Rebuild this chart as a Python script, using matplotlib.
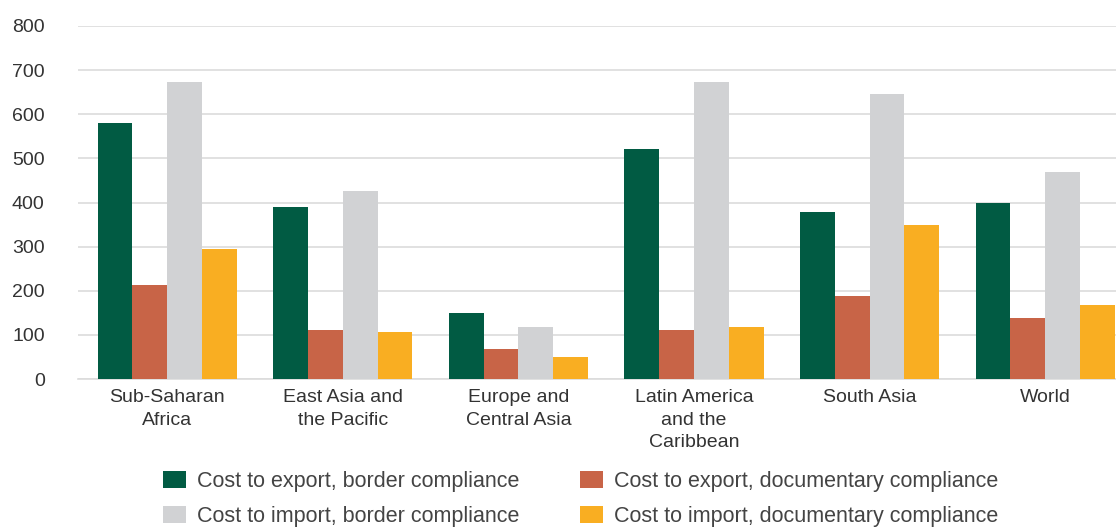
import numpy as np
import matplotlib.pyplot as plt

plt.rcParams['font.family'] = ['Liberation Sans', 'DejaVu Sans']

# Data
regions = ["Sub-Saharan\nAfrica", "East Asia and\nthe Pacific", "Europe and\nCentral Asia",
           "Latin America\nand the\nCaribbean", "South Asia", "World"]
export_border = [580, 389, 150, 522, 379, 400]
export_doc = [212, 111, 67, 111, 187, 139]
import_border = [674, 425, 118, 674, 645, 468]
import_doc = [295, 107, 49, 118, 349, 168]

series_names = ["Cost to export, border compliance", "Cost to export, documentary compliance",
                "Cost to import, border compliance", "Cost to import, documentary compliance"]
colors = ["#015B43", "#C86447", "#D1D2D4", "#F9AE22"]

W, H = 1116, 527
fig = plt.figure(figsize=(W / 100, H / 100), dpi=100)
ax = fig.add_axes([78 / W, 1 - 379 / H, (W - 78) / W, (379 - 26) / H])

x = np.arange(len(regions))
bw = 0.198
all_series = [export_border, export_doc, import_border, import_doc]
handles = []
for i, (vals, c) in enumerate(zip(all_series, colors)):
    b = ax.bar(x + (i - 1.5) * bw, vals, bw, color=c, zorder=3, label=series_names[i])
    handles.append(b)

ax.set_ylim(0, 800)
ax.set_xlim(-0.508, 5.403)
ax.set_yticks(range(0, 801, 100))
ax.yaxis.grid(True, color="#dcdcdc", linewidth=1.2, zorder=0)
ax.set_xticks(x)
ax.set_xticklabels(regions, fontsize=14, color="#333333", linespacing=1.45)
ax.tick_params(axis='y', labelsize=14, colors="#333333", length=0, pad=24)
ax.tick_params(axis='x', length=0, pad=7)
for s in ["top", "right", "left"]:
    ax.spines[s].set_visible(False)
ax.spines["bottom"].set_color("#dcdcdc")
ax.spines["bottom"].set_linewidth(1.2)

# legend: column-major order -> green, grey | red, yellow
order = [0, 2, 1, 3]
fig.legend([handles[k] for k in order], [series_names[k] for k in order],
           ncol=2, loc="upper left", bbox_to_anchor=(162.7 / W, 1 - 471 / H),
           frameon=False, fontsize=15.5, borderpad=0, borderaxespad=0,
           handlelength=1.07, handleheight=0.84, handletextpad=0.51,
           columnspacing=2.83, labelspacing=0.64, labelcolor="#444444")

fig.savefig("out.png", dpi=100)
